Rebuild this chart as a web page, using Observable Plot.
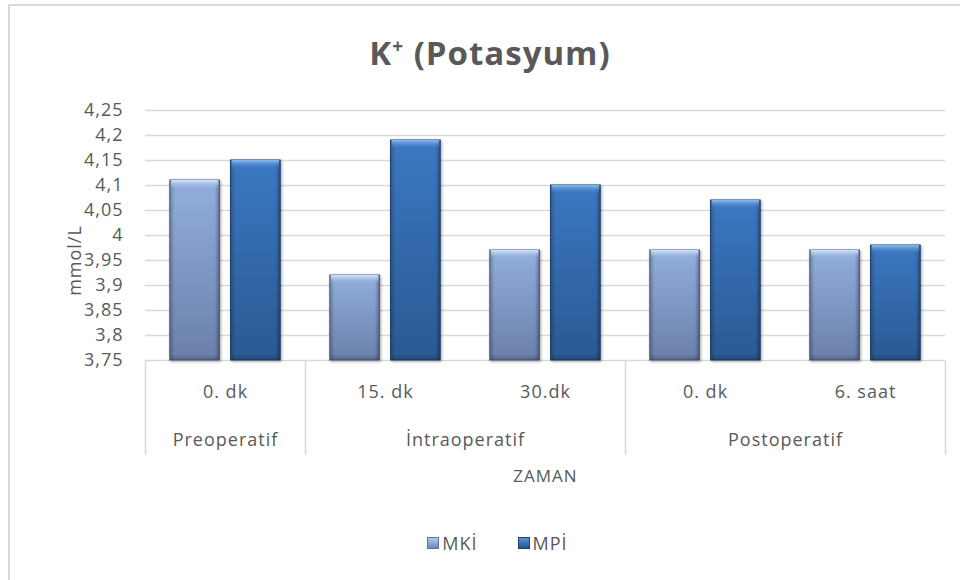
<!DOCTYPE html>
<html>
<head>
<meta charset="utf-8">
<script src="https://cdn.jsdelivr.net/npm/d3@7"></script>
<script src="https://cdn.jsdelivr.net/npm/@observablehq/plot@0.6"></script>
<style>
  html, body { margin: 0; padding: 0; background: #fff; }
  #chart { position: relative; width: 960px; height: 580px; overflow: hidden; font-family: "Open Sans", sans-serif; color: #595959; }
  #border { position: absolute; left: 8px; top: 4px; width: 1000px; height: 1000px; border: 2px solid #d9d9d9; box-sizing: border-box; pointer-events: none; }
  #title { margin-left: 8px; width: 964px; height: 63px; padding-top: 37px; line-height: 32px; font-size: 33px; font-weight: bold; text-align: center; letter-spacing: 1px; }
  #title sup { font-size: 19px; vertical-align: 12px; line-height: 0; }
  #plot { height: 400px; }
  #legend { height: 80px; display: flex; justify-content: center; align-items: flex-start; padding-left: 35px; box-sizing: border-box; padding-top: 31px; font-size: 18px; letter-spacing: 1px; }
  .item { display: flex; align-items: center; margin: 0 20px; }
  .sw { width: 12px; height: 12px; margin-right: 3px; box-sizing: border-box; }
</style>
</head>
<body>
<div id="chart">
  <div id="border"></div>
  <div id="title"></div>
  <div id="plot"></div>
  <div id="legend"></div>
</div>
<script>
// ---- data ----
const titleMain = "K";
const titleSup = "+";
const titleRest = " (Potasyum)";
const categories = ["0. dk", "15. dk", "30.dk", "0. dk", "6. saat"];
const groups = ["Preoperatif", "İntraoperatif", "Postoperatif"];
const groupSizes = [1, 2, 2];
const seriesNames = ["MKİ", "MPİ"];
const mkiValues = [4.11, 3.92, 3.97, 3.97, 3.97];
const mpiValues = [4.15, 4.19, 4.10, 4.07, 3.98];
const yTicks = [3.75, 3.8, 3.85, 3.9, 3.95, 4, 4.05, 4.1, 4.15, 4.2, 4.25];
const yLabel = "mmol/L";
const xLabel = "ZAMAN";

// ---- derived tables ----
const seriesValues = {"MKİ": mkiValues, "MPİ": mpiValues};
const rows = categories.flatMap((c, i) => seriesNames.map(s => ({i, category: c, series: s, value: seriesValues[s][i]})));
const catRows = categories.map((c, i) => ({i, label: c}));
let acc = 0;
const groupRows = groups.map((g, k) => { const start = acc; acc += groupSizes[k]; return {label: g, start, end: acc}; });
const dividers = [0, ...groupRows.map(g => g.end)];

// layout (style) constants: bar placement inside each category band
const barPos = {"MKİ": [0.155, 0.465], "MPİ": [0.535, 0.845]};
const yMin = yTicks[0], yMax = yTicks[yTicks.length - 1];

const styles = {
  "MKİ": {fill: "url(#gMKI)", stroke: "#4d6288", bevel: "url(#bMKI)"},
  "MPİ": {fill: "url(#gMPI)", stroke: "#1f406d", bevel: "url(#bMPI)"}
};

function seriesMarks(s) {
  const data = rows.filter(d => d.series === s);
  const x1 = d => d.i + barPos[s][0];
  const x2 = d => d.i + barPos[s][1];
  return [
    Plot.rect(data, {x1, x2, y1: yMin, y2: "value", fill: styles[s].fill, stroke: styles[s].stroke, strokeWidth: 1}),
    Plot.rect(data, {x1, x2, y1: yMin, y2: "value", fill: "url(#side)"}),
    Plot.rect(data, {x1, x2, y1: "value", y2: "value", insetBottom: -9, insetLeft: 1, insetRight: 1, fill: styles[s].bevel}),
    Plot.rect(data, {x1, x2, y1: yMin, y2: yMin, insetTop: -6, insetLeft: 1, insetRight: 1, fill: "url(#bottomShade)"})
  ];
}

document.getElementById("title").innerHTML = titleMain + "<sup>" + titleSup + "</sup>" + titleRest;

const plot = Plot.plot({
  width: 960,
  height: 400,
  marginTop: 10,
  marginBottom: 140,
  marginLeft: 145,
  marginRight: 15,
  style: {fontFamily: "Open Sans, sans-serif", fontSize: "18px", color: "#595959", letterSpacing: "1px", background: "transparent", overflow: "visible"},
  x: {domain: [0, categories.length], axis: null},
  y: {domain: [yMin, yMax], axis: null},
  marks: [
    Plot.gridY(yTicks, {stroke: "#d9d9d9", strokeOpacity: 1, strokeWidth: 1.5}),
    Plot.axisY(yTicks, {tickSize: 0, tickPadding: 22, tickFormat: d => String(d).replace(".", ","), label: null, fontSize: 18}),
    Plot.text([yLabel], {frameAnchor: "left", textAnchor: "middle", rotate: -90, dx: -70, dy: 25, fontSize: 18}),
    Plot.ruleX(dividers, {x: d => d, y1: yMin, y2: yMin, insetBottom: -95, stroke: "#d9d9d9", strokeWidth: 1.5}),
    ...seriesNames.flatMap(seriesMarks),
    Plot.text(catRows, {x: d => d.i + 0.5, text: "label", frameAnchor: "bottom", dy: 37, fontSize: 18}),
    Plot.text(groupRows, {x: d => (d.start + d.end) / 2, text: "label", frameAnchor: "bottom", dy: 85, fontSize: 18}),
    Plot.text([xLabel], {frameAnchor: "bottom", dy: 121, fontSize: 17})
  ]
});

// gradient definitions
const defs = `
<defs>
  <linearGradient id="gMKI" x1="0" y1="0" x2="0" y2="1">
    <stop offset="0" stop-color="#93aedd"/>
    <stop offset="1" stop-color="#6a80aa"/>
  </linearGradient>
  <linearGradient id="gMPI" x1="0" y1="0" x2="0" y2="1">
    <stop offset="0" stop-color="#3b78c2"/>
    <stop offset="1" stop-color="#2a5992"/>
  </linearGradient>
  <linearGradient id="side" x1="0" y1="0" x2="1" y2="0">
    <stop offset="0" stop-color="#000" stop-opacity="0.22"/>
    <stop offset="0.1" stop-color="#000" stop-opacity="0"/>
    <stop offset="0.9" stop-color="#000" stop-opacity="0"/>
    <stop offset="1" stop-color="#000" stop-opacity="0.28"/>
  </linearGradient>
  <linearGradient id="bMKI" x1="0" y1="0" x2="0" y2="1">
    <stop offset="0" stop-color="#d7e6fb"/>
    <stop offset="1" stop-color="#93aedd" stop-opacity="0"/>
  </linearGradient>
  <linearGradient id="bMPI" x1="0" y1="0" x2="0" y2="1">
    <stop offset="0" stop-color="#8cbdf0"/>
    <stop offset="1" stop-color="#3b78c2" stop-opacity="0"/>
  </linearGradient>
  <linearGradient id="bottomShade" x1="0" y1="0" x2="0" y2="1">
    <stop offset="0" stop-color="#000" stop-opacity="0"/>
    <stop offset="1" stop-color="#000" stop-opacity="0.2"/>
  </linearGradient>
</defs>`;
plot.insertAdjacentHTML("afterbegin", defs);
const rectGroups = plot.querySelectorAll('g[aria-label="rect"]');
[0, 4].forEach(k => { if (rectGroups[k]) rectGroups[k].style.filter = "drop-shadow(1.5px 1.5px 1.5px rgba(0,0,0,0.35))"; });
document.getElementById("plot").appendChild(plot);

// legend
const legendColors = {"MKİ": "linear-gradient(#b4cbef, #6f88b4)", "MPİ": "linear-gradient(#5a93d6, #24548f)"};
const legendBorders = {"MKİ": "#5d7399", "MPİ": "#1f406d"};
const legend = document.getElementById("legend");
seriesNames.forEach(s => {
  const item = document.createElement("div");
  item.className = "item";
  item.innerHTML = `<span class="sw" style="background:${legendColors[s]};border:1px solid ${legendBorders[s]}"></span><span>${s}</span>`;
  legend.appendChild(item);
});
</script>
</body>
</html>
